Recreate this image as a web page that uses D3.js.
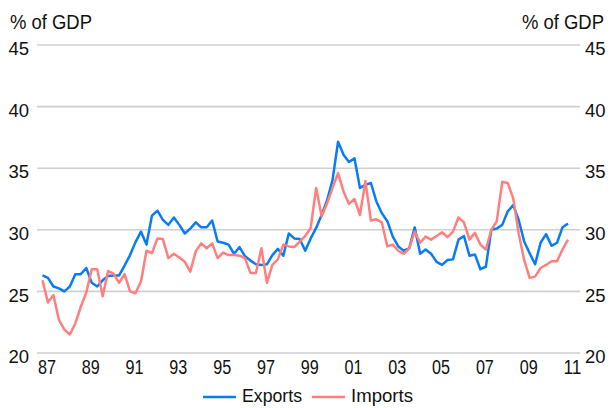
<!DOCTYPE html>
<html>
<head>
<meta charset="utf-8">
<script src="https://cdn.jsdelivr.net/npm/d3@7"></script>
<style>
  body { margin: 0; background: #fff; }
  svg text { font-family: "Liberation Sans", Arial, sans-serif; fill: #111; }
</style>
</head>
<body>
<svg id="chart" width="610" height="408"></svg>
<script>
// quarterly, 1987 Q1 .. 2011 Q1
var startYear = 1987;

var exportsPct = [
  26.3, 26.1, 25.4, 25.25, 25.0, 25.4, 26.4, 26.4, 26.9, 25.7,
  25.4, 25.9, 26.25, 26.3, 26.3, 27.1, 27.95, 29.0, 29.85, 28.8,
  31.15, 31.55, 30.8, 30.4, 31.0, 30.4, 29.7, 30.1, 30.6, 30.2,
  30.2, 30.75, 29.05, 28.95, 28.8, 28.05, 28.6, 27.85, 27.5, 27.2,
  27.15, 27.2, 27.95, 28.45, 27.9, 29.7, 29.3, 29.25, 28.3, 29.3,
  30.15, 31.2, 32.4, 34.05, 37.15, 36.1, 35.5, 35.8, 33.4, 33.65,
  33.8, 32.3, 31.35, 30.7, 29.45, 28.65, 28.3, 28.5, 30.2, 28.05,
  28.4, 28.05, 27.4, 27.15, 27.55, 27.6, 29.2, 29.5, 27.9, 28.0,
  26.8, 27.0, 30.0, 30.1, 30.4, 31.5, 32.0, 30.8, 29.05, 28.1,
  27.2, 28.95, 29.65, 28.7, 28.95, 30.2, 30.5
];

var importsPct = [
  25.9, 24.1, 24.7, 22.7, 21.9, 21.5, 22.4, 23.75, 24.9, 26.8,
  26.8, 24.6, 26.65, 26.45, 25.7, 26.4, 25.0, 24.85, 25.8, 28.3,
  28.1, 29.3, 29.25, 27.7, 28.05, 27.75, 27.4, 26.6, 28.25, 28.9,
  28.5, 28.9, 27.7, 28.15, 27.95, 27.95, 27.9, 27.7, 26.5, 26.5,
  28.5, 25.7, 27.15, 27.6, 28.8, 28.65, 28.6, 29.05, 29.5, 30.15,
  33.4, 31.1, 32.15, 33.4, 34.6, 33.1, 32.1, 32.5, 31.2, 33.95,
  30.75, 30.85, 30.6, 28.65, 28.8, 28.3, 28.05, 28.5, 29.85, 28.95,
  29.45, 29.2, 29.5, 29.8, 29.4, 29.85, 31.0, 30.6, 29.2, 29.75,
  28.8, 28.4, 30.0, 30.7, 33.9, 33.8, 32.55, 29.7, 27.55, 26.1,
  26.2, 26.9, 27.15, 27.45, 27.45, 28.4, 29.2
];

var yTicks = [20, 25, 30, 35, 40, 45];
var xTickYears = [1987, 1989, 1991, 1993, 1995, 1997, 1999, 2001, 2003, 2005, 2007, 2009, 2011];

var seriesNames = ["Exports", "Imports"];
var seriesColors = ["#0a7cf2", "#ff7f7f"];

var plotLeft = 37, plotRight = 580, plotTop = 45, plotBottom = 353;

var svg = d3.select("#chart");

var x = d3.scaleLinear()
    .domain([1986.75, 2011.55])
    .range([plotLeft, plotRight]);

var y = d3.scaleLinear()
    .domain([20, 45])
    .range([plotBottom, plotTop]);

// gridlines
svg.append("g")
    .attr("class", "grid")
  .selectAll("line")
    .data(yTicks)
  .enter().append("line")
    .attr("x1", plotLeft)
    .attr("x2", plotRight)
    .attr("y1", function(d) { return y(d); })
    .attr("y2", function(d) { return y(d); })
    .style("stroke", "#cfcfcf")
    .style("stroke-width", 1.6);

var yAxisLeft = d3.axisLeft(y).tickValues(yTicks).tickSize(0).tickPadding(8);
var yAxisRight = d3.axisRight(y).tickValues(yTicks).tickSize(0).tickPadding(5);

var gl = svg.append("g")
    .attr("transform", "translate(" + plotLeft + ",0)")
    .call(yAxisLeft);
var gr = svg.append("g")
    .attr("transform", "translate(" + plotRight + ",0)")
    .call(yAxisRight);

[gl, gr].forEach(function(g) {
  g.select(".domain").remove();
  g.selectAll("text")
      .attr("dy", "0.52em")
      .style("font-size", "18.5px")
      .style("font-family", "Liberation Sans, Arial, sans-serif")
      .style("fill", "#111");
});

var xAxis = d3.axisBottom(x)
    .tickValues(xTickYears)
    .tickSize(0)
    .tickPadding(6)
    .tickFormat(function(d) { return d3.format("02d")(d % 100); });

var gx = svg.append("g")
    .attr("transform", "translate(0," + plotBottom + ")")
    .call(xAxis);
gx.select(".domain").remove();
gx.selectAll("text")
    .attr("dx", 4)
    .attr("textLength", 18)
    .attr("lengthAdjust", "spacingAndGlyphs")
    .style("font-size", "20.5px")
    .style("font-family", "Liberation Sans, Arial, sans-serif")
    .style("fill", "#111");

// titles
svg.append("text")
    .attr("x", 10)
    .attr("y", 29)
    .attr("textLength", 82)
    .attr("lengthAdjust", "spacingAndGlyphs")
    .style("font-size", "20px")
    .text("% of GDP");

svg.append("text")
    .attr("x", 604)
    .attr("y", 29)
    .attr("textLength", 82)
    .attr("lengthAdjust", "spacingAndGlyphs")
    .style("text-anchor", "end")
    .style("font-size", "20px")
    .text("% of GDP");

// lines
var line = d3.line()
    .x(function(d, i) { return x(startYear + i / 4); })
    .y(function(d) { return y(d); });

[exportsPct, importsPct].forEach(function(s, k) {
  svg.append("path")
      .datum(s)
      .attr("d", line)
      .style("fill", "none")
      .style("stroke", seriesColors[k])
      .style("stroke-width", 2.5)
      .style("stroke-linejoin", "round");
});

// legend
var legendX = [203, 312];
var legendLen = [60, 62];
var legend = svg.append("g").attr("class", "legend");
seriesNames.forEach(function(name, k) {
  legend.append("line")
      .attr("x1", legendX[k])
      .attr("x2", legendX[k] + 33)
      .attr("y1", 397)
      .attr("y2", 397)
      .style("stroke", seriesColors[k])
      .style("stroke-width", 2.4);
  legend.append("text")
      .attr("x", legendX[k] + 39)
      .attr("y", 402)
      .attr("textLength", legendLen[k])
      .attr("lengthAdjust", "spacingAndGlyphs")
      .style("font-size", "19px")
      .text(name);
});
</script>
</body>
</html>
